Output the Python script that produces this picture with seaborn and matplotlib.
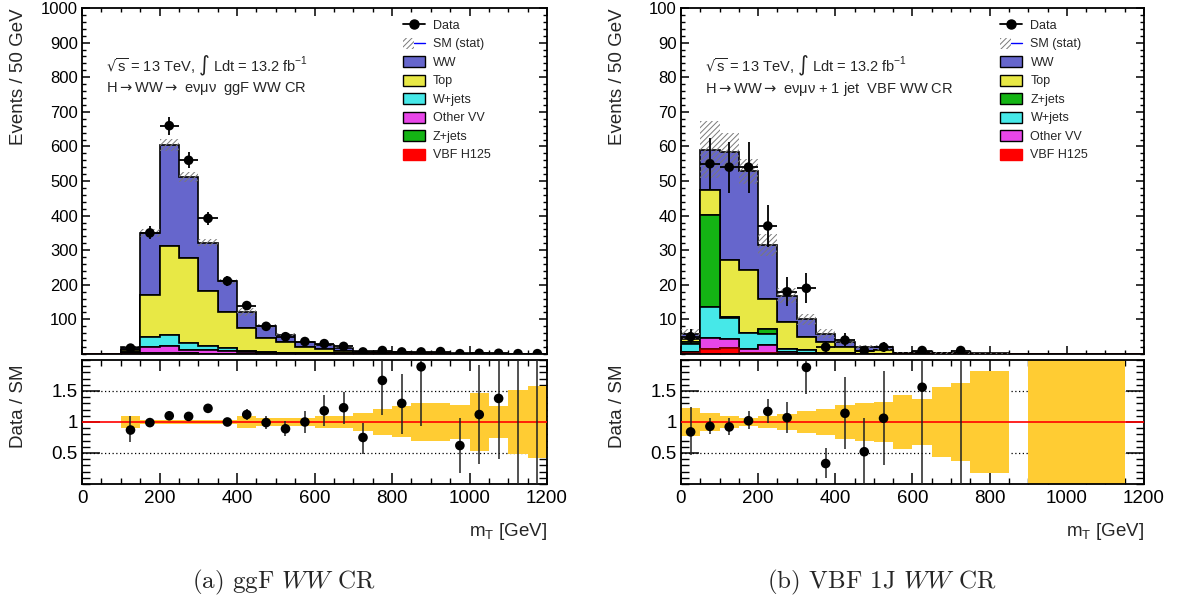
import numpy as np
import matplotlib
matplotlib.use("Agg")
import matplotlib.pyplot as plt
import seaborn as sns
from matplotlib.patches import Patch
from matplotlib.lines import Line2D
from matplotlib.legend_handler import HandlerTuple
from matplotlib.ticker import MultipleLocator, FixedLocator

# ---------------- data ----------------
bin_edges = [0, 50, 100, 150, 200, 250, 300, 350, 400, 450, 500, 550, 600,
             650, 700, 750, 800, 850, 900, 950, 1000, 1050, 1100, 1150, 1200]

# ggF WW CR
ggf_H = [0, 0, 0.2, 0.5, 0.6, 0.5, 0.4, 0.3, 0.2, 0.1, 0.1, 0.05, 0.05, 0, 0, 0, 0, 0, 0, 0, 0, 0, 0, 0]
ggf_Z = [0, 0, 0.5, 1.5, 1.5, 1.0, 0.8, 0.5, 0.3, 0.3, 0.2, 0.1, 0.1, 0.1, 0.05, 0, 0, 0, 0, 0, 0, 0, 0, 0]
ggf_VV = [0, 0, 2, 18, 21, 11.5, 9.8, 8.2, 5.5, 3.6, 2.7, 1.85, 1.35, 1.0, 0.6, 0.4, 0.3, 0.2, 0.15, 0.1, 0.1, 0.08, 0.05, 0]
ggf_W = [0, 0, 3, 28, 31, 19, 13, 8, 4, 2, 1, 1, 0.5, 0.4, 0.3, 0.2, 0.1, 0.1, 0.05, 0, 0, 0, 0, 0]
ggf_Top = [0, 0, 5, 123, 257, 245, 159, 105, 64, 39, 31, 17, 12, 8.5, 3.5, 2.5, 1.8, 1.2, 1.0, 0.6, 0.7, 0.5, 0.15, 0.15]
ggf_WW = [0, 0, 9.5, 179, 293, 235, 139, 88, 48, 36, 21, 16, 11, 8, 3.55, 2.9, 2.4, 1.7, 1.4, 0.9, 1.0, 0.87, 0.25, 0.25]
ggf_data = [0, 0, 17, 350, 660, 560, 392, 211, 140, 80, 50, 36, 30, 22, 6, 10, 6, 6, 7, 1, 2, 2, 1, 1]
ggf_band = [0, 0, 0.09, 0.03, 0.03, 0.03, 0.03, 0.03, 0.10, 0.06, 0.07, 0.06, 0.10, 0.10, 0.15, 0.21,
            0.25, 0.30, 0.30, 0.28, 0.46, 0.26, 0.52, 0.58]
nan = float("nan")
ggf_ratio = [nan, nan, 0.87, 0.99, 1.10, 1.09, 1.22, 1.00, 1.12, 0.99, 0.89, 1.00, 1.18, 1.23, 0.75, 1.67,
             1.30, 1.89, 2.6, 0.62, 1.12, 1.38, 2.4, 2.5]
ggf_ratio_lo = [nan, nan, 0.20, 0.04, 0.04, 0.04, 0.05, 0.06, 0.09, 0.11, 0.12, 0.17, 0.24, 0.26, 0.26, 0.55,
                0.50, 0.95, 0.55, 0.44, 0.80, 0.98, 2.4, 2.5]
ggf_ratio_hi = [nan, nan, 0.22, 0.04, 0.04, 0.04, 0.05, 0.06, 0.09, 0.11, 0.12, 0.17, 0.25, 0.26, 0.24, 0.60,
                0.48, 0.90, 0.90, 0.44, 0.80, 0.98, 2.4, 2.5]

# VBF 1J WW CR
vbf_H = [0.3, 1.55, 1.75, 0.4, 0.3, 0.1, 0.05, 0, 0, 0, 0, 0, 0, 0, 0, 0, 0, 0, 0, 0, 0, 0, 0, 0]
vbf_VV = [0.2, 3.2, 2.55, 1.0, 2.4, 0.5, 0.3, 0.2, 0.1, 0.1, 0.1, 0, 0, 0, 0, 0, 0, 0, 0, 0, 0, 0, 0, 0]
vbf_W = [2.5, 8.95, 6.0, 4.7, 3.2, 0.8, 0.75, 0.2, 0.1, 0, 0, 0, 0, 0, 0, 0, 0, 0, 0, 0, 0, 0, 0, 0]
vbf_Z = [0.6, 26.6, 0.3, 0.1, 1.3, 0.1, 0, 0, 0, 0, 0, 0, 0, 0, 0, 0, 0, 0, 0, 0, 0, 0, 0, 0]
vbf_Top = [0.8, 7.1, 16.6, 18.0, 8.7, 7.8, 3.8, 3.1, 1.8, 0.8, 1.0, 0.2, 0.3, 0.15, 0.15, 0.1, 0.1, 0,
           0.03, 0.03, 0.03, 0.03, 0.03, 0]
vbf_WW = [1.4, 11.7, 31.3, 28.6, 15.7, 7.6, 5.1, 2.4, 1.5, 1.0, 0.8, 0.2, 0.34, 0.15, 0.2, 0.1, 0.1, 0,
          0.02, 0.02, 0.02, 0.02, 0.02, 0]
vbf_data = [5, 55, 54, 54, 37, 18, 19, 2, 4, 1, 2, 0, 1, 0, 1, 0, 0, 0, 0, 0, 0, 0, 0, 0]
vbf_band = [0.23, 0.14, 0.09, 0.07, 0.10, 0.13, 0.17, 0.21, 0.27, 0.31, 0.32, 0.43, 0.37, 0.57, 0.63, 0.82,
            0.83, 0, 1.5, 1.5, 1.5, 1.5, 1.5, 0]
vbf_ratio = [0.84, 0.93, 0.92, 1.02, 1.17, 1.07, 1.88, 0.33, 1.14, 0.52, 1.06, nan, 1.56, nan, 2.9,
             nan, nan, nan, nan, nan, nan, nan, nan, nan]
vbf_ratio_lo = [0.37, 0.12, 0.13, 0.14, 0.19, 0.25, 0.43, 0.24, 0.58, 0.52, 0.76, nan, 1.56, nan, 2.9,
                nan, nan, nan, nan, nan, nan, nan, nan, nan]
vbf_ratio_hi = [0.40, 0.13, 0.14, 0.15, 0.20, 0.26, 0.50, 0.25, 0.58, 0.54, 0.76, nan, 1.60, nan, 2.9,
                nan, nan, nan, nan, nan, nan, nan, nan, nan]

# ---------------- style ----------------
sns.set_theme(style="ticks")
plt.rcParams.update({
    "axes.linewidth": 1.3,
    "xtick.direction": "in", "ytick.direction": "in",
    "xtick.top": True, "ytick.right": True,
    "xtick.color": "black", "ytick.color": "black",
    "axes.edgecolor": "black",
    "hatch.linewidth": 0.7,
})
plt.rcParams["font.family"] = ["Liberation Sans", "DejaVu Sans"]

COLORS = {"WW": "#6666cc", "Top": "#e8e845", "W+jets": "#46e8e8",
          "Other VV": "#e846e8", "Z+jets": "#14b414", "VBF H125": "#ff0000"}
ARROW = r"$\rightarrow$"

fig = plt.figure(figsize=(11.79, 6.04), dpi=100)


def panel(x0, w, comps, stack_order, legend_order, data, ratio, rlo, rhi, band,
          ymax, ymajor, yminor, line2, caption, cap_x):
    ax = fig.add_axes([x0, 0.4139, w, 0.5728])
    axr = fig.add_axes([x0, 0.1987, w, 0.2053])
    edges = np.array(bin_edges, float)
    centers = 0.5 * (edges[:-1] + edges[1:])
    halfw = 0.5 * (edges[1:] - edges[:-1])

    cum = np.zeros(len(centers))
    layers = []
    for name in stack_order:
        bot = cum.copy()
        cum = cum + np.array(comps[name], float)
        layers.append((name, bot, cum.copy()))
    for name, bot, top in reversed(layers):
        ec = "#800000" if name == "VBF H125" else "black"
        ax.stairs(top, edges, baseline=bot, fill=True, facecolor=COLORS[name],
                  edgecolor=ec, linewidth=1.2, zorder=2)
    total = cum
    band = np.array(band, float)
    ax.stairs(total * (1 + band), edges, baseline=total * (1 - band), fill=True,
              facecolor="none", edgecolor="#7a7a7a", hatch="//////", linewidth=0, zorder=3)

    data = np.array(data, float)
    m = data > 0
    ax.errorbar(centers[m], data[m], yerr=np.sqrt(data[m]), xerr=halfw[m], fmt="none",
                ecolor="black", elinewidth=1.3, capsize=0, zorder=5)
    sns.scatterplot(x=centers[m], y=data[m], ax=ax, color="black", s=48,
                    edgecolor="none", zorder=6, legend=False)

    ax.set_xlim(edges[0], edges[-1])
    ax.set_ylim(0, ymax)
    ax.xaxis.set_major_locator(MultipleLocator(200))
    ax.xaxis.set_minor_locator(MultipleLocator(50))
    ax.yaxis.set_major_locator(FixedLocator(np.arange(ymajor, ymax + ymajor / 2, ymajor)))
    ax.yaxis.set_minor_locator(MultipleLocator(yminor))
    ax.tick_params(axis="x", which="major", length=6, width=1.1, labelbottom=False)
    ax.tick_params(axis="x", which="minor", length=3, width=1.0)
    ax.tick_params(axis="y", which="major", length=6, width=1.1, labelsize=12, pad=3)
    ax.tick_params(axis="y", which="minor", length=3, width=1.0)
    ax.set_ylabel("Events / 50 GeV", fontsize=13.5, loc="top")
    ax.yaxis.set_label_coords(-0.118, 1.0)

    ax.text(0.052, 0.832,
            r"$\sqrt{\mathregular{s}}$ = 13 TeV, $\int$ Ldt = 13.2 fb$^{\mathregular{-1}}$",
            transform=ax.transAxes, fontsize=10.5, va="center", math_fontfamily="dejavusans")
    ax.text(0.052, 0.766, line2, transform=ax.transAxes, fontsize=10.5, va="center",
            math_fontfamily="dejavusans")

    handles = [Line2D([], [], color="black", marker="o", markersize=6.5, lw=1.3),
               (Patch(facecolor="none", edgecolor="#7a7a7a", hatch="//////", lw=0),
                Line2D([], [], color="blue", lw=1.0))]
    labels = ["Data", "SM (stat)"]
    for name in legend_order:
        ec = COLORS[name] if name == "VBF H125" else "black"
        handles.append(Patch(facecolor=COLORS[name], edgecolor=ec, lw=1.0))
        labels.append(name)
    ax.legend(handles, labels, loc="upper left", bbox_to_anchor=(0.69, 0.968),
              frameon=False, fontsize=9, handlelength=1.75, handleheight=1.0,
              handletextpad=0.65, labelspacing=0.45, borderpad=0, borderaxespad=0,
              handler_map={tuple: HandlerTuple(ndivide=None)})

    # ratio panel
    axr.axhline(0.5, color="black", ls=(0, (1, 2)), lw=0.9, zorder=1)
    axr.axhline(1.5, color="black", ls=(0, (1, 2)), lw=0.9, zorder=1)
    axr.stairs(1 + band, edges, baseline=1 - band, fill=True, facecolor="#ffcc33",
               edgecolor="none", linewidth=0, zorder=2)
    axr.axhline(1.0, color="red", lw=1.2, zorder=3)
    ratio = np.array(ratio, float)
    rlo = np.array(rlo, float)
    rhi = np.array(rhi, float)
    mr = np.isfinite(ratio)
    axr.errorbar(centers[mr], ratio[mr], yerr=[rlo[mr], rhi[mr]], fmt="none",
                 ecolor="#222222", elinewidth=1.1, capsize=0, zorder=5)
    sns.scatterplot(x=centers[mr], y=ratio[mr], ax=axr, color="black", s=48,
                    edgecolor="none", zorder=6, legend=False)
    axr.set_xlim(edges[0], edges[-1])
    axr.set_ylim(0, 2)
    axr.xaxis.set_major_locator(MultipleLocator(200))
    axr.xaxis.set_minor_locator(MultipleLocator(50))
    axr.yaxis.set_major_locator(FixedLocator([0.5, 1.0, 1.5]))
    axr.yaxis.set_minor_locator(MultipleLocator(0.1))
    axr.set_yticklabels(["0.5", "1", "1.5"])
    axr.tick_params(axis="x", which="major", length=8, width=1.1, labelsize=13.5, pad=4)
    axr.tick_params(axis="x", which="minor", length=4, width=1.0)
    axr.tick_params(axis="y", which="major", length=13, width=1.1, labelsize=13.5, pad=3)
    axr.tick_params(axis="y", which="minor", length=6, width=1.0)
    axr.set_ylabel("Data / SM", fontsize=13.5, loc="top")
    axr.yaxis.set_label_coords(-0.118, 0.96)
    axr.set_xlabel(r"m$_\mathregular{T}$ [GeV]", fontsize=13.5, loc="right")
    axr.xaxis.set_label_coords(1.0, -0.30)

    fig.text(cap_x, 0.036, caption, fontsize=18, family="cmr10", math_fontfamily="cm",
             ha="center", va="center")


panel(0.0696, 0.3944,
      {"WW": ggf_WW, "Top": ggf_Top, "W+jets": ggf_W, "Other VV": ggf_VV,
       "Z+jets": ggf_Z, "VBF H125": ggf_H},
      ["VBF H125", "Z+jets", "Other VV", "W+jets", "Top", "WW"],
      ["WW", "Top", "W+jets", "Other VV", "Z+jets", "VBF H125"],
      ggf_data, ggf_ratio, ggf_ratio_lo, ggf_ratio_hi, ggf_band,
      1000, 100, 20, "H" + ARROW + "WW" + ARROW + " e\u03bd\u03bc\u03bd  ggF WW CR",
      r"(a) ggF $WW$ CR", 0.241)

panel(0.5776, 0.3927,
      {"WW": vbf_WW, "Top": vbf_Top, "Z+jets": vbf_Z, "W+jets": vbf_W,
       "Other VV": vbf_VV, "VBF H125": vbf_H},
      ["VBF H125", "Other VV", "W+jets", "Z+jets", "Top", "WW"],
      ["WW", "Top", "Z+jets", "W+jets", "Other VV", "VBF H125"],
      vbf_data, vbf_ratio, vbf_ratio_lo, vbf_ratio_hi, vbf_band,
      100, 10, 2, "H" + ARROW + "WW" + ARROW + " e\u03bd\u03bc\u03bd + 1 jet  VBF WW CR",
      r"(b) VBF 1J $WW$ CR", 0.748)

fig.savefig("out.png", dpi=100)
